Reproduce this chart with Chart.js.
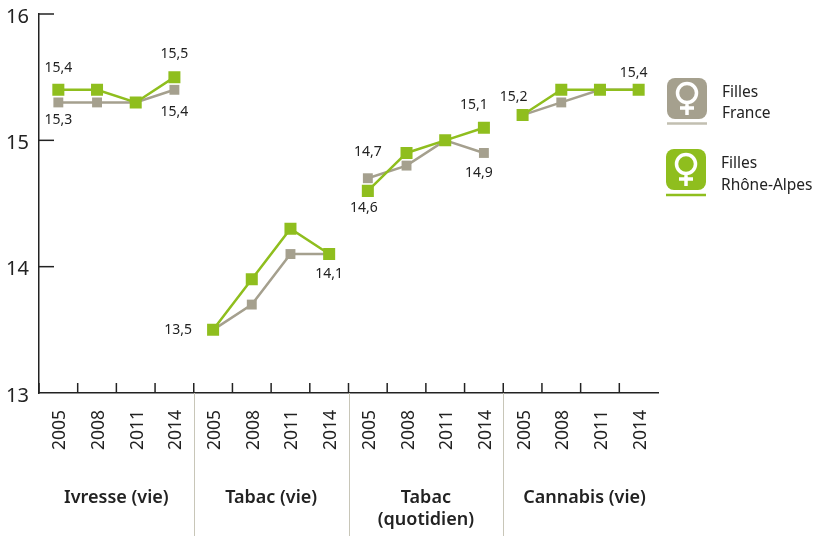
<!DOCTYPE html>
<html>
<head>
<meta charset="utf-8">
<style>
  html, body { margin: 0; padding: 0; background: #fff; }
  canvas { display: block; }
</style>
<script src="https://cdn.jsdelivr.net/npm/chart.js@4"></script>
</head>
<body>
<canvas id="chart" width="820" height="536"></canvas>
<script>
const annees = ["2005","2008","2011","2014","2005","2008","2011","2014","2005","2008","2011","2014","2005","2008","2011","2014"];
const groupes = [["Ivresse (vie)"], ["Tabac (vie)"], ["Tabac", "(quotidien)"], ["Cannabis (vie)"]];
const fillesFrance = [15.3,15.3,15.3,15.4, 13.5,13.7,14.1,14.1, 14.7,14.8,15.0,14.9, 15.2,15.3,15.4,15.4];
const fillesRhoneAlpes = [15.4,15.4,15.3,15.5, 13.5,13.9,14.3,14.1, 14.6,14.9,15.0,15.1, 15.2,15.4,15.4,15.4];

// étiquettes affichées : [série, index, décalage x, décalage y]
const etiquettes = [
  [1,0,0,-22],[0,0,0,18],[1,3,0,-23],[0,3,0,22],
  [0,4,-35,0],[0,7,0,20],
  [0,8,0,-26],[1,8,-4,17],[1,11,-10,-23],[0,11,-5,20],
  [0,12,-9,-18],[1,15,-5,-17]
];

const VERT = "#8fbe1e";
const GRIS = "#a5a08e";
const FONT = '"Noto Sans", sans-serif';

function symboleFemme(ctx, x, y, couleur, ligne, yLigne, lignes, xTexte, basesTexte) {
  ctx.fillStyle = couleur;
  ctx.beginPath();
  ctx.roundRect(x, y, 40, 41, 8);
  ctx.fill();
  ctx.strokeStyle = "#fff";
  ctx.lineWidth = 3.5;
  ctx.beginPath();
  ctx.arc(x + 20, y + 15, 9.5, 0, Math.PI * 2);
  ctx.moveTo(x + 20, y + 25);
  ctx.lineTo(x + 20, y + 37);
  ctx.moveTo(x + 13, y + 30);
  ctx.lineTo(x + 27, y + 30);
  ctx.stroke();
  ctx.strokeStyle = ligne;
  ctx.lineWidth = 2.5;
  ctx.beginPath();
  ctx.moveTo(x, yLigne);
  ctx.lineTo(x + 40, yLigne);
  ctx.stroke();
  ctx.fillStyle = "#222";
  ctx.font = "15.5px " + FONT;
  ctx.textAlign = "left";
  ctx.textBaseline = "alphabetic";
  lignes.forEach((t, i) => ctx.fillText(t, xTexte, basesTexte[i]));
}

const decor = {
  id: "decor",
  afterDatasetsDraw(chart) {
    const { ctx, scales: { x, y }, chartArea: area } = chart;
    const pas = x.getPixelForValue(1) - x.getPixelForValue(0);
    ctx.save();

    // traits de séparation des groupes
    ctx.strokeStyle = "#c8c6b8";
    ctx.lineWidth = 1;
    [4, 8, 12].forEach(i => {
      const px = Math.round(x.getPixelForValue(i) - pas / 2) + 0.5;
      ctx.beginPath();
      ctx.moveTo(px, area.bottom);
      ctx.lineTo(px, chart.height);
      ctx.stroke();
    });

    // graduations vers l'intérieur
    ctx.strokeStyle = "#222";
    ctx.lineWidth = 1.5;
    annees.forEach((a, i) => {
      const px = x.getPixelForValue(i) - pas / 2;
      ctx.beginPath();
      ctx.moveTo(px, area.bottom);
      ctx.lineTo(px, area.bottom - 10);
      ctx.stroke();
    });
    [14, 15, 16].forEach(v => {
      const py = y.getPixelForValue(v);
      ctx.beginPath();
      ctx.moveTo(area.left, py);
      ctx.lineTo(area.left + 15, py);
      ctx.stroke();
    });

    // valeurs
    ctx.fillStyle = "#222";
    ctx.font = "14px " + FONT;
    ctx.textAlign = "center";
    ctx.textBaseline = "middle";
    etiquettes.forEach(([s, i, dx, dy]) => {
      const v = chart.data.datasets[s].data[i];
      ctx.fillText(v.toFixed(1).replace(".", ","), x.getPixelForValue(i) + dx, y.getPixelForValue(v) + dy);
    });

    // noms des groupes
    ctx.font = "600 18px " + FONT;
    groupes.forEach((lignes, g) => {
      const cx = (x.getPixelForValue(g * 4) + x.getPixelForValue(g * 4 + 3)) / 2 + (g === 3 ? 4 : 0);
      lignes.forEach((t, l) => ctx.fillText(t, cx, 498 + l * 22));
    });

    symboleFemme(ctx, 667, 78, GRIS, "#c2bfb1", 123.5, ["Filles", "France"], 722, [97, 118]);
    symboleFemme(ctx, 666, 149, VERT, VERT, 195, ["Filles", "Rhône-Alpes"], 721, [168, 190]);
    ctx.restore();
  }
};

// pas de trait entre deux groupes
const coupure = {
  borderColor: c => (c.p0DataIndex % 4 === 3 ? "transparent" : undefined)
};

new Chart(document.getElementById("chart"), {
  type: "line",
  plugins: [decor],
  data: {
    labels: annees,
    datasets: [
      { label: "Filles France", data: fillesFrance, borderColor: GRIS, backgroundColor: GRIS, borderWidth: 2.5,
        pointStyle: "rect", pointRadius: 7, pointBorderWidth: 0, tension: 0, order: 2, segment: coupure },
      { label: "Filles Rhône-Alpes", data: fillesRhoneAlpes, borderColor: VERT, backgroundColor: VERT, borderWidth: 2.5,
        pointStyle: "rect", pointRadius: 8.5, pointBorderWidth: 0, tension: 0, order: 1, segment: coupure }
    ]
  },
  options: {
    responsive: false,
    animation: false,
    layout: { padding: { top: 6, right: 162, left: 0, bottom: 0 } },
    plugins: { legend: { display: false }, tooltip: { enabled: false } },
    scales: {
      x: {
        offset: true,
        afterFit: s => { s.height = 143; },
        grid: { display: false },
        border: { color: "#222", width: 1.5 },
        ticks: { autoSkip: false, minRotation: 90, maxRotation: 90, padding: 9, labelOffset: 2, color: "#222", font: { family: FONT, size: 17.5 } }
      },
      y: {
        min: 13,
        max: 16,
        afterFit: s => { s.width = 39; },
        grid: { display: false },
        border: { color: "#222", width: 1.5 },
        ticks: { stepSize: 1, padding: 2, labelOffset: 3, color: "#222", font: { family: FONT, size: 20 } }
      }
    }
  }
});
</script>
</body>
</html>
